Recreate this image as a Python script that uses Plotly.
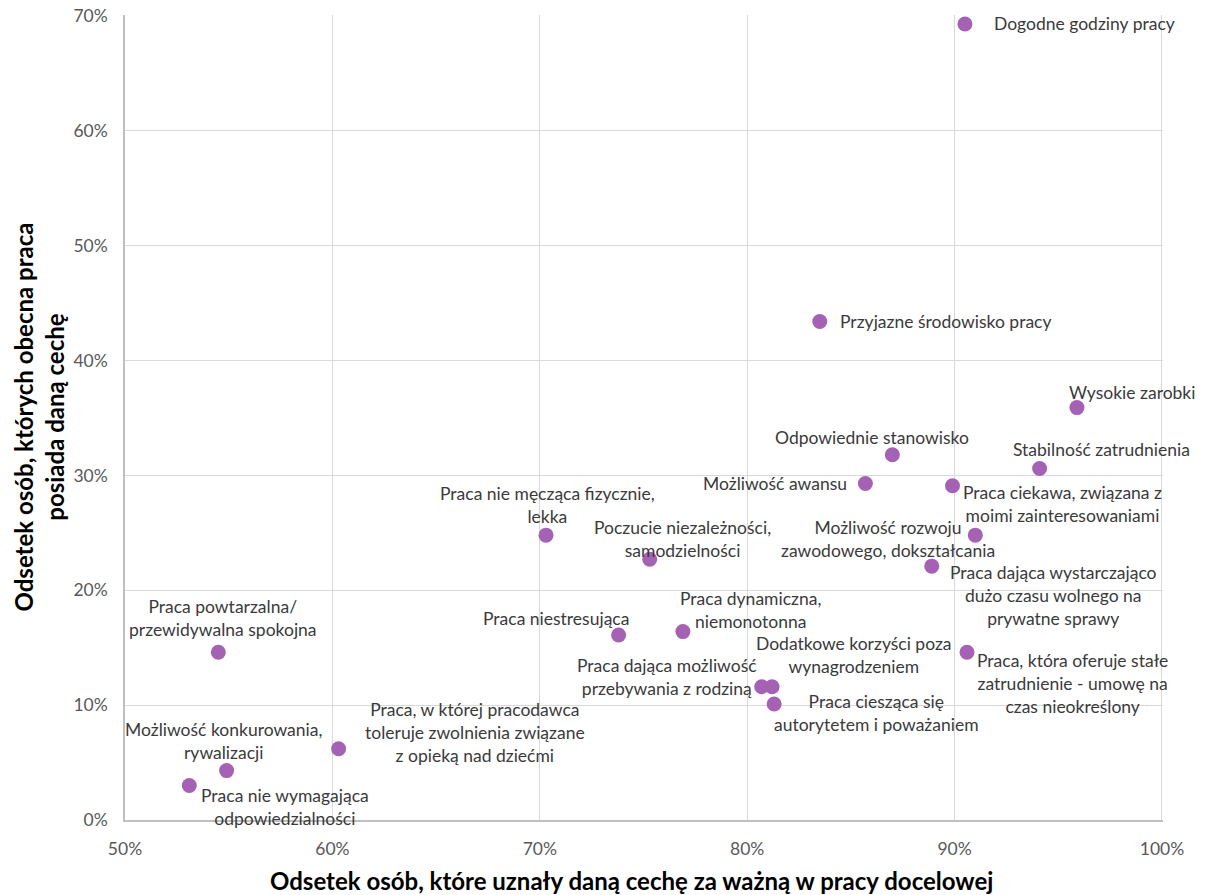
import plotly.graph_objects as go

# share who consider the feature important (x) vs share whose current job has it (y)
labels = [
    "Dogodne godziny pracy",
    "Przyjazne środowisko pracy",
    "Wysokie zarobki",
    "Stabilność zatrudnienia",
    "Odpowiednie stanowisko",
    "Możliwość awansu",
    "Praca ciekawa, związana z<br>moimi zainteresowaniami",
    "Możliwość rozwoju<br>zawodowego, dokształcania",
    "Praca dająca wystarczająco<br>dużo czasu wolnego na<br>prywatne sprawy",
    "Praca nie męcząca fizycznie,<br>lekka",
    "Poczucie niezależności,<br>samodzielności",
    "Praca niestresująca",
    "Praca dynamiczna,<br>niemonotonna",
    "Praca powtarzalna/<br>przewidywalna spokojna",
    "Praca dająca możliwość<br>przebywania z rodziną",
    "Dodatkowe korzyści poza<br>wynagrodzeniem",
    "Praca ciesząca się<br>autorytetem i poważaniem",
    "Praca, która oferuje stałe<br>zatrudnienie - umowę na<br>czas nieokreślony",
    "Praca, w której pracodawca<br>toleruje zwolnienia związane<br>z opieką nad dziećmi",
    "Możliwość konkurowania,<br>rywalizacji",
    "Praca nie wymagająca<br>odpowiedzialności",
]
important = [0.905, 0.835, 0.959, 0.941, 0.870, 0.857, 0.899, 0.910, 0.889,
             0.703, 0.753, 0.738, 0.769, 0.545, 0.807, 0.812, 0.813,
             0.906, 0.603, 0.549, 0.531]
current = [0.693, 0.434, 0.359, 0.306, 0.318, 0.293, 0.291, 0.248, 0.221,
           0.248, 0.227, 0.161, 0.164, 0.146, 0.116, 0.116, 0.101,
           0.146, 0.062, 0.043, 0.030]

x_ticks = [0.5, 0.6, 0.7, 0.8, 0.9, 1.0]
y_ticks = [0, 0.1, 0.2, 0.3, 0.4, 0.5, 0.6, 0.7]

# label offsets in px (dx, dy down positive, anchor)
offsets = [
    (27, 0, "left"), (18, 0, "left"), (55, -15, "center"), (62, -19, "center"),
    (-20, -17, "center"), (-16, 0, "right"), (110, 18, "center"), (-87, 4, "center"),
    (122, 29, "center"), (1, -30, "center"), (33, -20, "center"), (-63, -17, "center"),
    (68, -22, "center"), (5, -34, "center"), (-95, -10, "center"), (82, -32, "center"),
    (102, 9, "center"), (105, 31, "center"), (136, -16, "center"), (-3, -30, "center"),
    (96, 21, "center"),
]

font = "Lato, 'Open Sans', sans-serif"

fig = go.Figure()
fig.add_trace(go.Scatter(
    x=important, y=current, mode="markers",
    marker=dict(size=15, color="#A562B5"),
    hovertext=labels, hoverinfo="text",
))

for lab, xv, yv, (dx, dy, anc) in zip(labels, important, current, offsets):
    fig.add_annotation(x=xv, y=yv, text=lab, showarrow=False,
                       xanchor=anc, yanchor="middle", align="center",
                       xshift=dx, yshift=-dy,
                       font=dict(family=font, size=17.5, color="#3a3a3a"))

fig.add_annotation(xref="paper", yref="paper", x=0.5, y=0,
                   text="Odsetek osób, które uznały daną cechę za ważną w pracy docelowej",
                   showarrow=False, yanchor="middle", xshift=-13, yshift=-60,
                   font=dict(family=font, size=24, color="black", weight="bold"))
fig.add_annotation(xref="paper", yref="paper", x=0, y=0.5,
                   text="Odsetek osób, których obecna praca<br>posiada daną cechę",
                   showarrow=False, textangle=-90, xanchor="center", xshift=-87,
                   font=dict(family=font, size=24, color="black", weight="bold"))

# page body has an 8px margin, so margins are offset by it
fig.update_layout(
    width=1208, height=895,
    margin=dict(l=117, r=53, t=7, b=83),
    plot_bgcolor="white", paper_bgcolor="white",
    showlegend=False,
    font=dict(family=font, size=17.5, color="#595959"),
)
fig.update_xaxes(range=[0.5, 1.0005], tickvals=x_ticks, tickformat=".0%",
                 showgrid=True, gridcolor="#D9D9D9", gridwidth=1,
                 showline=True, linecolor="#BFBFBF", linewidth=1.5,
                 zeroline=False, ticks="", ticklabelstandoff=12, automargin=False,
                 ticklabeloverflow="allow")
fig.update_yaxes(range=[0, 0.7008], tickvals=y_ticks, tickformat=".0%",
                 showgrid=True, gridcolor="#D9D9D9", gridwidth=1,
                 showline=True, linecolor="#BFBFBF", linewidth=1.5,
                 zeroline=False, ticks="", ticklabelstandoff=12, automargin=False,
                 ticklabeloverflow="allow")

fig.write_html("out.html")
